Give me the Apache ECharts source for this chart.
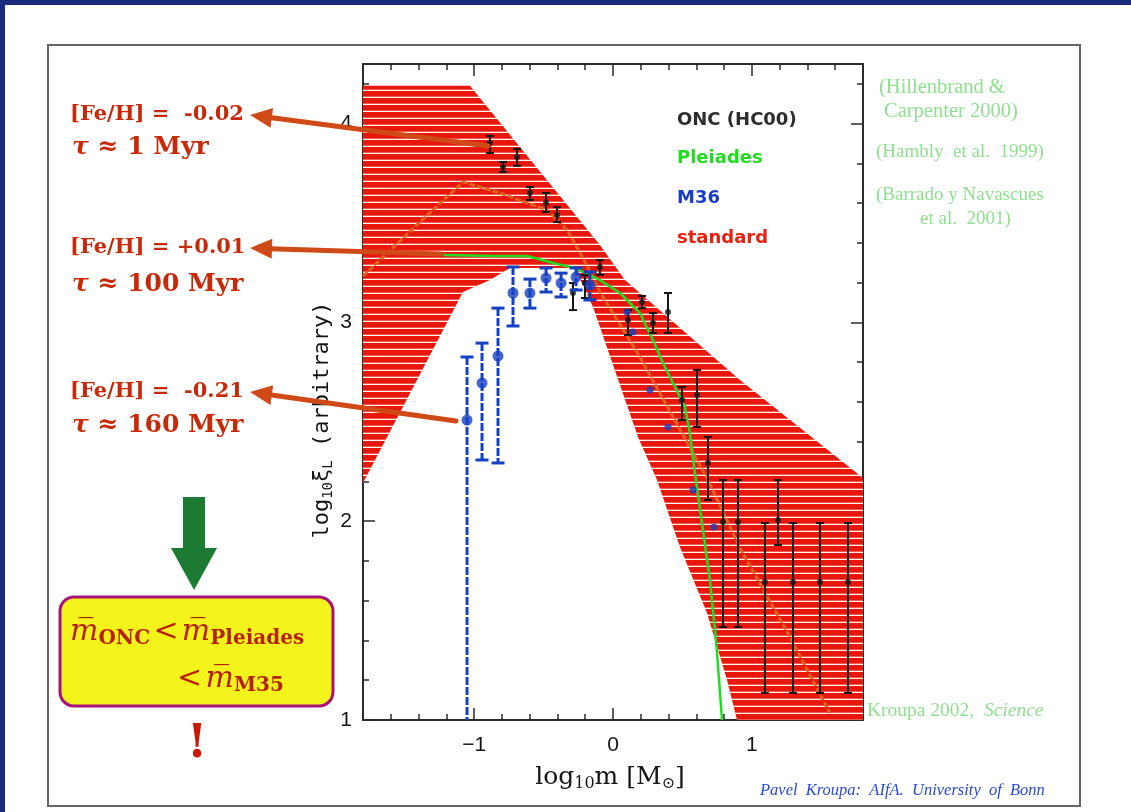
<!DOCTYPE html>
<html><head><meta charset="utf-8">
<script src="https://cdn.jsdelivr.net/npm/echarts@6/dist/echarts.min.js"></script>
<style>html,body{margin:0;padding:0;background:#fff}#c{width:1131px;height:812px}</style>
</head><body><div id="c"></div>
<script>
// ---------- data ----------
const bandX = [-1.8, -1.03, -0.094, 0.086, 0.914, 1.8, 1.8, 0.893, 0.821, 0.677, 0.482, 0.317, 0.18, -0.144, -0.274, -0.742, -0.886, -1.08, -1.411, -1.8];
const bandY = [4.19, 4.19, 3.389, 3.213, 2.71, 2.217, 1.0, 1.0, 1.201, 1.538, 1.87, 2.207, 2.424, 3.077, 3.274, 3.274, 3.213, 3.153, 2.71, 2.192];
const modelX = [-1.8, -1.39, -1.08, -0.814, -0.475, -0.331, -0.216, -0.094, 0.194, 0.425, 0.677, 0.914, 1.274, 1.562];
const modelY = [3.233, 3.505, 3.706, 3.651, 3.565, 3.465, 3.324, 3.153, 2.826, 2.534, 2.217, 1.865, 1.418, 1.035];
const pleiadesX = [-1.224, -0.835, -0.619, -0.403, -0.274, -0.094, 0.05, 0.194, 0.288, 0.36, 0.432, 0.518, 0.554, 0.59, 0.648, 0.698, 0.734, 0.749, 0.785];
const pleiadesY = [3.339, 3.334, 3.334, 3.294, 3.274, 3.213, 3.148, 3.047, 2.911, 2.796, 2.695, 2.574, 2.444, 2.242, 1.956, 1.704, 1.453, 1.337, 1.0];
const oncX  = [-0.886,-0.792,-0.691,-0.598,-0.482,-0.403,-0.288,-0.202,-0.094,0.108,0.209,0.288,0.396,0.497,0.605,0.684,0.792,0.9,1.188,1.094,1.296,1.49,1.692];
const oncY  = [3.902,3.782,3.832,3.651,3.601,3.54,3.148,3.198,3.279,3.012,3.103,2.997,3.052,2.61,2.635,2.293,1.996,1.996,2.006,1.694,1.694,1.694,1.694];
const oncLo = [3.852,3.757,3.788,3.616,3.556,3.505,3.062,3.123,3.239,2.937,3.072,2.947,2.947,2.509,2.474,2.107,1.468,1.468,1.88,1.136,1.136,1.136,1.136];
const oncHi = [3.938,3.807,3.873,3.681,3.651,3.58,3.198,3.238,3.314,3.062,3.133,3.047,3.148,2.675,2.761,2.424,2.207,2.207,2.207,1.991,1.991,1.991,1.991];
const m36X  = [-1.051,-0.943,-0.828,-0.72,-0.598,-0.482,-0.374,-0.266,-0.166,0.101,0.144,0.266,0.396,0.576,0.727];
const m36Y  = [2.509,2.695,2.831,3.148,3.148,3.223,3.198,3.228,3.188,3.052,2.952,2.66,2.474,2.157,1.971];
const m36Lo = [1.0,2.308,2.293,2.982,3.072,3.153,3.128,3.163,3.113,3.052,2.952,2.66,2.474,2.157,1.971];
const m36Hi = [2.826,2.896,3.072,3.279,3.218,3.274,3.248,3.274,3.254,3.052,2.952,2.66,2.474,2.157,1.971];
const xTickLabels = [-1, 0, 1];
const yTickLabels = [1, 2, 3, 4];

// ---------- styling helpers ----------
const pat = document.createElement('canvas');
pat.width = 8; pat.height = 7;
(function(){const g = pat.getContext('2d'); g.fillStyle = '#e8160b'; g.fillRect(0,0,8,7);
  g.fillStyle = '#fff4f0'; g.fillRect(0,5.7,8,1.3);})();

const AX = '#2b2b2b';
function minorAxis(pos, isY) {
  return {
    type:'value', position:pos, min: isY?1:-1.8, max: isY?4.3:1.8, interval:0.2,
    axisLine:{show:true, onZero:false, lineStyle:{color:AX, width:2}},
    axisTick:{show:true, inside:true, length:6, lineStyle:{color:AX, width:1.5}},
    axisLabel:{show:false}, splitLine:{show:false}
  };
}
function majorAxis(pos, isY, showLabels, labels) {
  return {
    type:'value', position:pos, min: isY?1:-1.8, max: isY?4.3:1.8,
    axisLine:{show:false, onZero:false},
    axisTick:{show:true, inside:true, length:12, customValues:labels, lineStyle:{color:AX, width:1.5}},
    axisLabel:{show:showLabels, customValues:labels, margin: isY?11:15,
      formatter: v => (v<0 ? '\u2212'+Math.abs(v) : String(v)),
      fontSize:21, color:'#151515', fontFamily:'Liberation Sans'},
    splitLine:{show:false}
  };
}
function errRender(capW, color, lw, dash) {
  return function(params, api){
    const x = api.value(0), lo = api.value(1), hi = api.value(2);
    if (hi - lo < 1e-6) return {type:'group', children:[]};
    const t = api.coord([x, hi]), b = api.coord([x, lo]);
    const ch = [
      {type:'line', shape:{x1:t[0], y1:t[1], x2:b[0], y2:b[1]}, style:{stroke:color, lineWidth:lw, lineDash:dash}},
      {type:'line', shape:{x1:t[0]-capW/2, y1:t[1], x2:t[0]+capW/2, y2:t[1]}, style:{stroke:color, lineWidth:lw}}
    ];
    if (lo > 1.001) ch.push({type:'line', shape:{x1:b[0]-capW/2, y1:b[1], x2:b[0]+capW/2, y2:b[1]}, style:{stroke:color, lineWidth:lw}});
    return {type:'group', children:ch};
  };
}
function arrow(tip, tail, color, w, hl, hw) {
  const dx = tail[0]-tip[0], dy = tail[1]-tip[1], L = Math.hypot(dx,dy), ux = dx/L, uy = dy/L;
  const bx = tip[0]+ux*hl, by = tip[1]+uy*hl, px = -uy*hw, py = ux*hw;
  return [
    {type:'line', z:100, shape:{x1:bx-ux*2, y1:by-uy*2, x2:tail[0], y2:tail[1]}, style:{stroke:color, lineWidth:w, lineCap:'round'}},
    {type:'polygon', z:100, shape:{points:[tip,[bx+px,by+py],[bx-px,by-py]]}, style:{fill:color}}
  ];
}
const RED = '#c62a08';
const SER = 'DejaVu Serif';
function feText(x, y, s) {
  return {type:'text', x:x, y:y, z:50, style:{text:s, fontFamily:SER, fontWeight:'bold', fontSize:21, fill:RED, align:'left', verticalAlign:'middle'}};
}
function tauText(x, y, s) {
  return {type:'text', x:x, y:y, z:50, style:{text:'{t|\u03c4} \u2248 '+s, fontFamily:SER, fontWeight:'bold', fontSize:25, fill:RED, align:'left', verticalAlign:'middle',
    rich:{t:{fontFamily:SER, fontStyle:'italic', fontWeight:'bold', fontSize:25, fill:RED}}}};
}
const CIT = '#8ee08e';
function cit(x, y, s, fs) {
  return {type:'text', x:x, y:y, style:{text:s, fontFamily:'Liberation Serif', fontSize:fs||19, fill:CIT, align:'left', verticalAlign:'middle'}};
}
function leg(y, s, c) {
  return {type:'text', x:677, y:y, z:50, style:{text:s, fontFamily:'DejaVu Sans', fontWeight:'bold', fontSize:18, fill:c, align:'left', verticalAlign:'middle'}};
}
const boxRich = {
  m:{fontFamily:SER, fontStyle:'italic', fontSize:30, lineHeight:34, fill:'#b52200'},
  s:{fontFamily:SER, fontWeight:'bold', fontSize:20, lineHeight:12, verticalAlign:'bottom', fill:'#b52200'},
  o:{fontFamily:SER, fontSize:30, lineHeight:34, fill:'#b52200'}
};

const chart = echarts.init(document.getElementById('c'), null, {renderer:'canvas'});
chart.setOption({
  animation:false,
  backgroundColor:'#ffffff',
  grid:{left:363, top:64, right:268, bottom:92, outerBoundsMode:'none', containLabel:false},
  xAxis:[minorAxis('bottom', false), majorAxis('bottom', false, true, xTickLabels),
         minorAxis('top', false), majorAxis('top', false, false, xTickLabels)],
  yAxis:[minorAxis('left', true), majorAxis('left', true, true, yTickLabels),
         minorAxis('right', true), majorAxis('right', true, false, yTickLabels)],
  series:[
    {type:'custom', silent:true, z:1, data:[[0,0]], encode:{x:0, y:1},
     renderItem:function(params, api){
       const pts = bandX.map((x,i)=>api.coord([x, bandY[i]]));
       return {type:'polygon', shape:{points:pts}, style:{fill:{image:pat, repeat:'repeat'}, stroke:null}};
     }},
    {type:'line', silent:true, z:3, symbol:'none', data:modelX.map((x,i)=>[x, modelY[i]]),
     lineStyle:{color:'#e0621e', width:3, type:[6,2]}},
    {type:'line', silent:true, z:4, symbol:'none', data:pleiadesX.map((x,i)=>[x, pleiadesY[i]]),
     lineStyle:{color:'#22dc22', width:2.5}},
    {type:'custom', silent:true, z:5, data:oncX.map((x,i)=>[x, oncLo[i], oncHi[i]]), encode:{x:0, y:[1,2]},
     renderItem:errRender(8, '#151515', 2, null)},
    {type:'scatter', silent:true, z:6, symbol:'circle', symbolSize:6, data:oncX.map((x,i)=>[x, oncY[i]]),
     itemStyle:{color:'#151515'}},
    {type:'custom', silent:true, z:7, data:m36X.map((x,i)=>[x, m36Lo[i], m36Hi[i]]), encode:{x:0, y:[1,2]},
     renderItem:errRender(13, '#1540c0', 3, [8,2])},
    {type:'scatter', silent:true, z:8, symbol:'circle', data:m36X.map((x,i)=>[x, m36Y[i]]),
     symbolSize:(v, p)=> p.dataIndex < 9 ? 11 : 7,
     itemStyle:{color:'#1540c0'}}
  ],
  graphic:[
    {type:'rect', z:-10, shape:{x:48, y:45, width:1032, height:761}, style:{fill:null, stroke:'#666', lineWidth:2}},
    {type:'rect', z:-10, shape:{x:0, y:0, width:1131, height:5}, style:{fill:'#1b2a7a'}},
    {type:'rect', z:-10, shape:{x:0, y:0, width:5, height:812}, style:{fill:'#1b2a7a'}},
    // in-plot legend
    leg(120, 'ONC (HC00)', '#2d2d2d'),
    leg(158, 'Pleiades', '#22dc22'),
    leg(198, 'M36', '#1a3cc8'),
    leg(238, 'standard', '#e8200e'),
    // citations
    cit(879, 88, '(Hillenbrand &', 20.5),
    cit(884, 112, 'Carpenter 2000)', 20.5),
    cit(876, 152, '(Hambly  et al.  1999)'),
    cit(876, 195, '(Barrado y Navascues'),
    cit(920, 219, 'et al.  2001)'),
    {type:'text', x:867, y:711, style:{text:'Kroupa 2002,  {i|Science}', fontFamily:'Liberation Serif', fontSize:19.5, fill:CIT, align:'left', verticalAlign:'middle',
      rich:{i:{fontFamily:'Liberation Serif', fontStyle:'italic', fontSize:19.5, fill:CIT}}}},
    {type:'text', x:760, y:791, style:{text:'Pavel  Kroupa:  AIfA.  University  of  Bonn', fontFamily:'Liberation Serif', fontStyle:'italic', fontSize:16.5, fill:'#2a4bd0', align:'left', verticalAlign:'middle'}},
    // axis titles
    {type:'text', x:322, y:420, rotation:Math.PI/2, style:{text:'log{s|10}\u03be{s|L} (arbitrary)', fontFamily:'DejaVu Sans Mono', fontSize:22, lineHeight:26, fill:'#151515', align:'center', verticalAlign:'middle',
      rich:{s:{fontFamily:'DejaVu Sans Mono', fontSize:14, lineHeight:10, verticalAlign:'bottom', fill:'#151515'}}}},
    {type:'text', x:610, y:777, style:{text:'log{s|10}m [M{s|\u2299}]', fontFamily:SER, fontSize:25, lineHeight:30, fill:'#151515', align:'center', verticalAlign:'middle',
      rich:{s:{fontFamily:SER, fontSize:16, lineHeight:12, verticalAlign:'bottom', fill:'#151515'}}}},
    // left annotations
    feText(70, 115, '[Fe/H] =  -0.02'), tauText(72, 147, '1 Myr'),
    feText(70, 248, '[Fe/H] = +0.01'), tauText(72, 284, '100 Myr'),
    feText(70, 392, '[Fe/H] =  -0.21'), tauText(72, 425, '160 Myr'),
    ...arrow([250,115],[488,146],'#cf4a16',5,22,10),
    ...arrow([250,248],[440,254],'#cf4a16',5,22,10),
    ...arrow([250,392],[456,421],'#cf4a16',5,22,10),
    // green down arrow
    {type:'polygon', shape:{points:[[183,497],[205,497],[205,548],[217,548],[194,590],[171,548],[183,548]]}, style:{fill:'#1c7a32'}},
    // yellow box
    {type:'rect', shape:{x:60, y:597, width:273, height:109, r:14}, style:{fill:'#f4f41c', stroke:'#a8127a', lineWidth:3}},
    {type:'text', x:70, y:632, style:{text:'{m|m\u0305}{s|ONC} {o|<} {m|m\u0305}{s|Pleiades}', align:'left', verticalAlign:'middle', rich:boxRich}},
    {type:'text', x:177, y:679, style:{text:'{o|<} {m|m\u0305}{s|M35}', align:'left', verticalAlign:'middle', rich:boxRich}},
    {type:'text', x:197, y:745, style:{text:'!', fontFamily:SER, fontWeight:'bold', fontSize:46, fill:'#cc1800', align:'center', verticalAlign:'middle'}}
  ]
});
</script></body></html>
